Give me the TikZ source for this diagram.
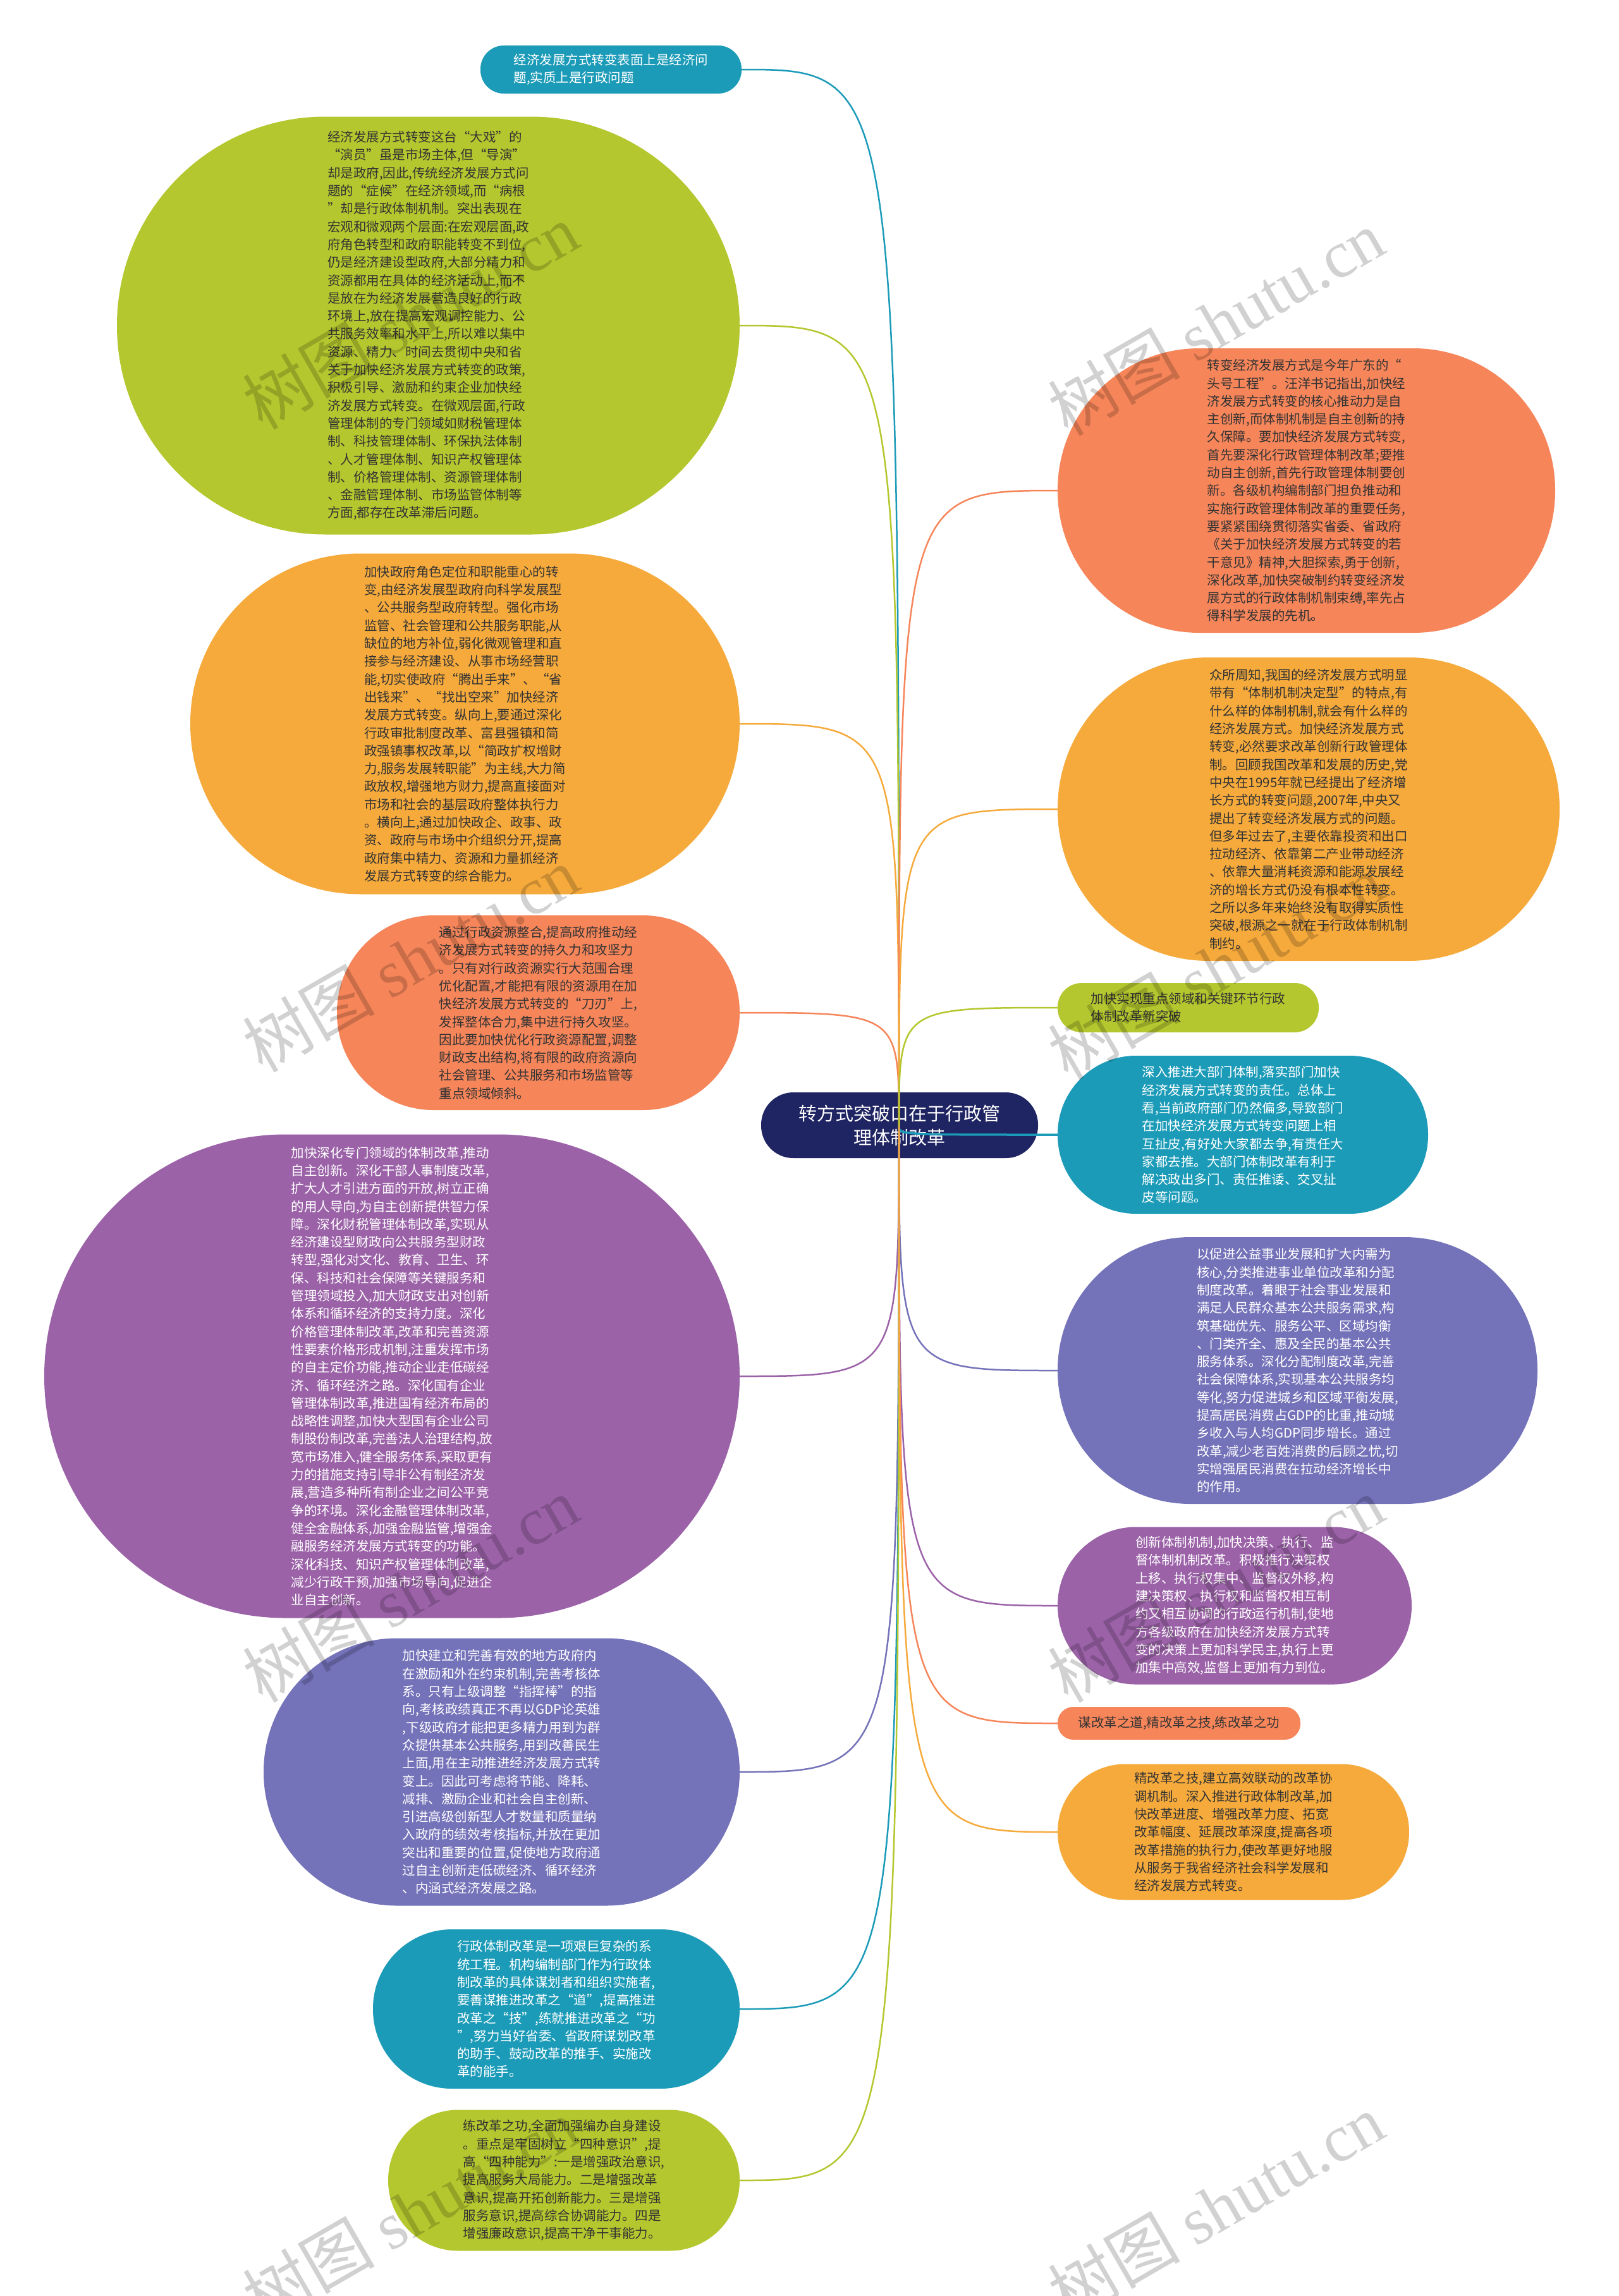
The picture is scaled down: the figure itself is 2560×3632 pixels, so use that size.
\documentclass[tikz,border=0pt]{standalone}
\usepackage{fontspec}
\setmainfont{Noto Sans CJK SC}
\newfontfamily\wmlat{Liberation Serif}
\definecolor{cteal}{HTML}{1C9BB8}
\definecolor{cgreen}{HTML}{B4C72E}
\definecolor{cyell}{HTML}{F6AA3C}
\definecolor{csalm}{HTML}{F6855A}
\definecolor{cpurp}{HTML}{9B62A8}
\definecolor{clav}{HTML}{7472B9}
\definecolor{cnavy}{HTML}{1F2462}
\definecolor{cdark}{HTML}{333333}
\tikzset{
  box/.style={draw=none, rectangle, align=left, inner sep=0pt, font=\fontsize{20.5}{28.3}\selectfont},
  lt/.style={text=white},
  dk/.style={text=cdark},
  link/.style={line width=2.5pt},
  wm/.style={text=black, opacity=0.18, rotate=30, inner sep=0pt, font=\fontsize{105}{110}\selectfont},
}
\begin{document}
\begin{tikzpicture}[x=1pt,y=-1pt]
\fill[white] (0,0) rectangle (2560,3632);
\useasboundingbox (0,0) rectangle (2560,3632);

% centre
\node[draw=none, rectangle, fill=cnavy, text=white, align=center, inner sep=0pt,
  minimum width=438pt, minimum height=104pt, rounded corners=51pt,
  font=\fontsize{29}{38}\selectfont] (C) at (1423,1780) {转方式突破口在于行政管\\理体制改革};
\coordinate (O) at (1422,1782);

% left side
\node[box, fill=cteal, lt, minimum width=413pt, minimum height=76pt, rounded corners=37pt] (A) at (966.5,110)
{经济发展方式转变表面上是经济问\\题,实质上是行政问题};

\node[box, fill=cgreen, dk, minimum width=985pt, minimum height=661pt, rounded corners=330pt] (B) at (677.5,515)
{经济发展方式转变这台“大戏”的\\
“演员”虽是市场主体,但“导演”\\
却是政府,因此,传统经济发展方式问\\
题的“症候”在经济领域,而“病根\\
”却是行政体制机制。突出表现在\\
宏观和微观两个层面:在宏观层面,政\\
府角色转型和政府职能转变不到位,\\
仍是经济建设型政府,大部分精力和\\
资源都用在具体的经济活动上,而不\\
是放在为经济发展营造良好的行政\\
环境上,放在提高宏观调控能力、公\\
共服务效率和水平上,所以难以集中\\
资源、精力、时间去贯彻中央和省\\
关于加快经济发展方式转变的政策,\\
积极引导、激励和约束企业加快经\\
济发展方式转变。在微观层面,行政\\
管理体制的专门领域如财税管理体\\
制、科技管理体制、环保执法体制\\
、人才管理体制、知识产权管理体\\
制、价格管理体制、资源管理体制\\
、金融管理体制、市场监管体制等\\
方面,都存在改革滞后问题。};

\node[box, fill=cyell, dk, minimum width=869pt, minimum height=539pt, rounded corners=269pt] (Cc) at (735.5,1145)
{加快政府角色定位和职能重心的转\\
变,由经济发展型政府向科学发展型\\
、公共服务型政府转型。强化市场\\
监管、社会管理和公共服务职能,从\\
缺位的地方补位,弱化微观管理和直\\
接参与经济建设、从事市场经营职\\
能,切实使政府“腾出手来”、“省\\
出钱来”、“找出空来”加快经济\\
发展方式转变。纵向上,要通过深化\\
行政审批制度改革、富县强镇和简\\
政强镇事权改革,以“简政扩权增财\\
力,服务发展转职能”为主线,大力简\\
政放权,增强地方财力,提高直接面对\\
市场和社会的基层政府整体执行力\\
。横向上,通过加快政企、政事、政\\
资、政府与市场中介组织分开,提高\\
政府集中精力、资源和力量抓经济\\
发展方式转变的综合能力。};

\node[box, fill=csalm, dk, minimum width=637pt, minimum height=308pt, rounded corners=153pt] (D) at (851.5,1602)
{通过行政资源整合,提高政府推动经\\
济发展方式转变的持久力和攻坚力\\
。只有对行政资源实行大范围合理\\
优化配置,才能把有限的资源用在加\\
快经济发展方式转变的“刀刃”上,\\
发挥整体合力,集中进行持久攻坚。\\
因此要加快优化行政资源配置,调整\\
财政支出结构,将有限的政府资源向\\
社会管理、公共服务和市场监管等\\
重点领域倾斜。};

\node[box, fill=cpurp, lt, minimum width=1100pt, minimum height=765pt, rounded corners=382pt] (E) at (620,2177)
{加快深化专门领域的体制改革,推动\\
自主创新。深化干部人事制度改革,\\
扩大人才引进方面的开放,树立正确\\
的用人导向,为自主创新提供智力保\\
障。深化财税管理体制改革,实现从\\
经济建设型财政向公共服务型财政\\
转型,强化对文化、教育、卫生、环\\
保、科技和社会保障等关键服务和\\
管理领域投入,加大财政支出对创新\\
体系和循环经济的支持力度。深化\\
价格管理体制改革,改革和完善资源\\
性要素价格形成机制,注重发挥市场\\
的自主定价功能,推动企业走低碳经\\
济、循环经济之路。深化国有企业\\
管理体制改革,推进国有经济布局的\\
战略性调整,加快大型国有企业公司\\
制股份制改革,完善法人治理结构,放\\
宽市场准入,健全服务体系,采取更有\\
力的措施支持引导非公有制经济发\\
展,营造多种所有制企业之间公平竞\\
争的环境。深化金融管理体制改革,\\
健全金融体系,加强金融监管,增强金\\
融服务经济发展方式转变的功能。\\
深化科技、知识产权管理体制改革,\\
减少行政干预,加强市场导向,促进企\\
业自主创新。};

\node[box, fill=clav, lt, minimum width=753pt, minimum height=423pt, rounded corners=211pt] (F) at (793.5,2803)
{加快建立和完善有效的地方政府内\\
在激励和外在约束机制,完善考核体\\
系。只有上级调整“指挥棒”的指\\
向,考核政绩真正不再以GDP论英雄\\
,下级政府才能把更多精力用到为群\\
众提供基本公共服务,用到改善民生\\
上面,用在主动推进经济发展方式转\\
变上。因此可考虑将节能、降耗、\\
减排、激励企业和社会自主创新、\\
引进高级创新型人才数量和质量纳\\
入政府的绩效考核指标,并放在更加\\
突出和重要的位置,促使地方政府通\\
过自主创新走低碳经济、循环经济\\
、内涵式经济发展之路。};

\node[box, fill=cteal, lt, minimum width=580pt, minimum height=252pt, rounded corners=125pt] (G) at (880,3178)
{行政体制改革是一项艰巨复杂的系\\
统工程。机构编制部门作为行政体\\
制改革的具体谋划者和组织实施者,\\
要善谋推进改革之“道”,提高推进\\
改革之“技”,练就推进改革之“功\\
”,努力当好省委、省政府谋划改革\\
的助手、鼓动改革的推手、实施改\\
革的能手。};

\node[box, fill=cgreen, dk, minimum width=556pt, minimum height=223pt, rounded corners=111pt] (H) at (892,3449)
{练改革之功,全面加强编办自身建设\\
。重点是牢固树立“四种意识”,提\\
高“四种能力”:一是增强政治意识,\\
提高服务大局能力。二是增强改革\\
意识,提高开拓创新能力。三是增强\\
服务意识,提高综合协调能力。四是\\
增强廉政意识,提高干净干事能力。};

% right side
\node[box, fill=csalm, dk, minimum width=787pt, minimum height=450pt, rounded corners=224pt] (I) at (2066.5,776)
{转变经济发展方式是今年广东的“\\
头号工程”。汪洋书记指出,加快经\\
济发展方式转变的核心推动力是自\\
主创新,而体制机制是自主创新的持\\
久保障。要加快经济发展方式转变,\\
首先要深化行政管理体制改革;要推\\
动自主创新,首先行政管理体制要创\\
新。各级机构编制部门担负推动和\\
实施行政管理体制改革的重要任务,\\
要紧紧围绕贯彻落实省委、省政府\\
《关于加快经济发展方式转变的若\\
干意见》精神,大胆探索,勇于创新,\\
深化改革,加快突破制约转变经济发\\
展方式的行政体制机制束缚,率先占\\
得科学发展的先机。};

\node[box, fill=cyell, dk, minimum width=794pt, minimum height=480pt, rounded corners=239pt] (J) at (2070,1280)
{众所周知,我国的经济发展方式明显\\
带有“体制机制决定型”的特点,有\\
什么样的体制机制,就会有什么样的\\
经济发展方式。加快经济发展方式\\
转变,必然要求改革创新行政管理体\\
制。回顾我国改革和发展的历史,党\\
中央在1995年就已经提出了经济增\\
长方式的转变问题,2007年,中央又\\
提出了转变经济发展方式的问题。\\
但多年过去了,主要依靠投资和出口\\
拉动经济、依靠第二产业带动经济\\
、依靠大量消耗资源和能源发展经\\
济的增长方式仍没有根本性转变。\\
之所以多年来始终没有取得实质性\\
突破,根源之一就在于行政体制机制\\
制约。};

\node[box, fill=cgreen, dk, minimum width=413pt, minimum height=78pt, rounded corners=38pt] (K) at (1879.5,1594)
{加快实现重点领域和关键环节行政\\体制改革新突破};

\node[box, fill=cteal, lt, minimum width=586pt, minimum height=250pt, rounded corners=124pt] (L) at (1966,1795)
{深入推进大部门体制,落实部门加快\\
经济发展方式转变的责任。总体上\\
看,当前政府部门仍然偏多,导致部门\\
在加快经济发展方式转变问题上相\\
互扯皮,有好处大家都去争,有责任大\\
家都去推。大部门体制改革有利于\\
解决政出多门、责任推诿、交叉扯\\
皮等问题。};

\node[box, fill=clav, lt, minimum width=759pt, minimum height=422pt, rounded corners=210pt] (M) at (2052.5,2168)
{以促进公益事业发展和扩大内需为\\
核心,分类推进事业单位改革和分配\\
制度改革。着眼于社会事业发展和\\
满足人民群众基本公共服务需求,构\\
筑基础优先、服务公平、区域均衡\\
、门类齐全、惠及全民的基本公共\\
服务体系。深化分配制度改革,完善\\
社会保障体系,实现基本公共服务均\\
等化,努力促进城乡和区域平衡发展,\\
提高居民消费占GDP的比重,推动城\\
乡收入与人均GDP同步增长。通过\\
改革,减少老百姓消费的后顾之忧,切\\
实增强居民消费在拉动经济增长中\\
的作用。};

\node[box, fill=cpurp, lt, minimum width=560pt, minimum height=249pt, rounded corners=124pt] (N) at (1953,2540)
{创新体制机制,加快决策、执行、监\\
督体制机制改革。积极推行决策权\\
上移、执行权集中、监督权外移,构\\
建决策权、执行权和监督权相互制\\
约又相互协调的行政运行机制,使地\\
方各级政府在加快经济发展方式转\\
变的决策上更加科学民主,执行上更\\
加集中高效,监督上更加有力到位。};

\node[box, fill=csalm, dk, minimum width=384pt, minimum height=52pt, rounded corners=25pt] (Oo) at (1865,2726)
{谋改革之道,精改革之技,练改革之功};

\node[box, fill=cyell, dk, minimum width=556pt, minimum height=215pt, rounded corners=107pt] (P) at (1951,2898)
{精改革之技,建立高效联动的改革协\\
调机制。深入推进行政体制改革,加\\
快改革进度、增强改革力度、拓宽\\
改革幅度、延展改革深度,提高各项\\
改革措施的执行力,使改革更好地服\\
从服务于我省经济社会科学发展和\\
经济发展方式转变。};

% connectors
\draw[link, cteal]  (O) .. controls (O |- A.east) .. (A.east);
\draw[link, cgreen] (O) .. controls (O |- B.east) .. (B.east);
\draw[link, cyell]  (O) .. controls (O |- Cc.east) .. (Cc.east);
\draw[link, csalm]  (O) .. controls (O |- D.east) .. (D.east);
\draw[link, cpurp]  (O) .. controls (O |- E.east) .. (E.east);
\draw[link, clav]   (O) .. controls (O |- F.east) .. (F.east);
\draw[link, cteal]  (O) .. controls (O |- G.east) .. (G.east);
\draw[link, cgreen] (O) .. controls (O |- H.east) .. (H.east);
\draw[link, csalm]  (O) .. controls (O |- I.west) .. (I.west);
\draw[link, cyell]  (O) .. controls (O |- J.west) .. (J.west);
\draw[link, cgreen] (O) .. controls (O |- K.west) .. (K.west);
\draw[link, cteal, line width=3.5pt]  (O) .. controls (O |- L.west) .. (L.west);
\draw[link, clav]   (O) .. controls (O |- M.west) .. (M.west);
\draw[link, cpurp]  (O) .. controls (O |- N.west) .. (N.west);
\draw[link, csalm]  (O) .. controls (O |- Oo.west) .. (Oo.west);
\draw[link, cyell]  (O) .. controls (O |- P.west) .. (P.west);

% watermarks
\foreach \i/\x/\y in {1/649/500, 2/1923/510, 3/649/1517, 4/1923/1529, 5/649/2514, 6/1923/2514, 7/649/3498, 8/1923/3490} {
  \node[wm] (wm\i) at (\x,\y) {树图 {\wmlat shutu.cn}};
}
\end{tikzpicture}
\end{document}
